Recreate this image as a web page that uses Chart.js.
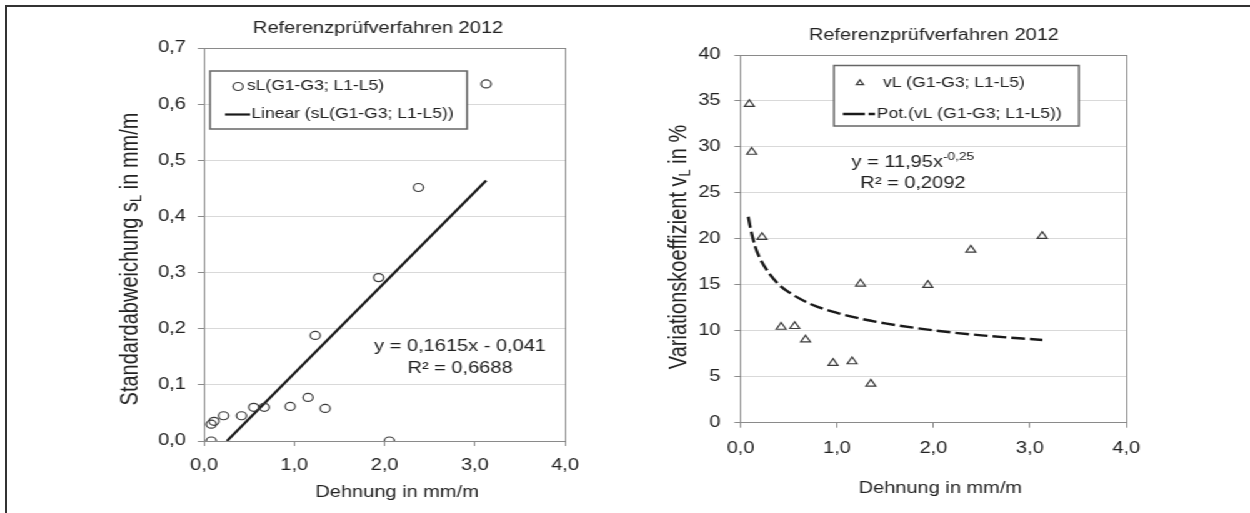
<!DOCTYPE html>
<html>
<head>
<meta charset="utf-8">
<title>Referenzprüfverfahren 2012</title>
<script src="https://cdn.jsdelivr.net/npm/chart.js@4.4.1/dist/chart.umd.min.js"></script>
<style>
  html, body { margin: 0; padding: 0; background: #fff; }
  body { width: 1250px; height: 513px; overflow: hidden; position: relative; }
  #rahmen { position: absolute; left: 5px; top: 5px; width: 1260px; height: 520px;
            border-top: 2px solid #333; border-left: 2px solid #333; }
  /* die Vorlage ist horizontal gestreckt, daher 1000px breit zeichnen und auf 1250 ziehen */
  #flaeche { position: absolute; left: 0; top: 0; width: 1000px; height: 513px;
             transform: scaleX(1.25); transform-origin: 0 0; }
  #flaeche canvas { position: absolute; top: 0; }
</style>
</head>
<body>
<div id="rahmen"></div>
<div id="flaeche">
  <canvas id="diagrammS" width="500" height="513" style="left:0"></canvas>
  <canvas id="diagrammV" width="500" height="513" style="left:500px"></canvas>
</div>
<script>
// Links: Standardabweichung sL über Dehnung
const dehnungS = [0.08, 0.11, 0.216, 0.08, 0.415, 0.55, 0.667, 0.954, 1.152, 1.232, 1.342, 1.934, 2.053, 2.375, 3.126];
const standardabw = [0.030, 0.035, 0.045, 0.0, 0.045, 0.060, 0.060, 0.0615, 0.0776, 0.188, 0.058, 0.291, 0.0, 0.4515, 0.636];
// lineare Trendlinie, Endpunkte aus dem Bild
const linearX = [0.254, 3.126];
const linearY = [0.0, 0.464];

// Rechts: Variationskoeffizient vL über Dehnung
const dehnungV = [0.091, 0.116, 0.223, 0.421, 0.562, 0.674, 0.959, 1.157, 1.244, 1.351, 1.942, 2.388, 3.128];
const variation = [34.65, 29.45, 20.18, 10.41, 10.49, 9.03, 6.48, 6.66, 15.11, 4.22, 14.97, 18.8, 20.3];
// Potenz-Trendlinie, Punkte
const potenzX = [0.08, 0.1, 0.15, 0.2, 0.3, 0.4, 0.5, 0.75, 1.0, 1.25, 1.5, 2.0, 2.5, 3.13];
const potenzY = [22.4, 21.3, 19.2, 17.9, 16.2, 15.0, 14.2, 12.8, 11.95, 11.3, 10.8, 10.05, 9.5, 9.0];

// Achsenbeschriftungen
const xTickLabels = ['0,0', '1,0', '2,0', '3,0', '4,0'];
const sTickLabels = ['0,0', '0,1', '0,2', '0,3', '0,4', '0,5', '0,6', '0,7'];
const vTickLabels = ['0', '5', '10', '15', '20', '25', '30', '35', '40'];

const FONT = "'Liberation Sans', Arial, sans-serif";
const TEXT = '#222';
const RAHMEN = '#8a8a8a';
const GITTER = '#d9d9d9';

Chart.defaults.font.family = FONT;
Chart.defaults.color = TEXT;

const punkte = (xs, ys) => xs.map((x, i) => ({ x: x, y: ys[i] }));
const gleich = (a, b) => Math.abs(a - b) < 1e-9;

function achsen(o) {
  return {
    x: {
      type: 'linear', min: 0, max: 4,
      ticks: { stepSize: 1, autoSkip: false, maxRotation: 0, padding: o.xPad, color: TEXT,
               font: { size: 16 }, callback: (v, i) => xTickLabels[i] },
      grid: {
        color: c => (c.tick && (gleich(c.tick.value, 0) || gleich(c.tick.value, 4))) ? RAHMEN : 'rgba(0,0,0,0)',
        tickColor: RAHMEN, tickLength: 5, lineWidth: 1
      },
      border: { display: true, color: RAHMEN, width: 1 },
      afterFit: s => { s.height = o.xHoehe; }
    },
    y: {
      type: 'linear', min: 0, max: o.yMax,
      ticks: { stepSize: o.yStep, autoSkip: false, padding: o.yPad, color: TEXT,
               font: { size: 16 }, callback: (v, i) => o.yLabels[i] },
      grid: {
        color: c => (c.tick && (gleich(c.tick.value, 0) || gleich(c.tick.value, o.yMax))) ? RAHMEN : GITTER,
        tickColor: RAHMEN, tickLength: 5, lineWidth: 1
      },
      border: { display: true, color: RAHMEN, width: 1 },
      afterFit: s => { s.width = o.yBreite; }
    }
  };
}

// Texte (Titel, Achsentitel mit Index, Gleichungen) und Legende mit Rahmen
const beschriftung = {
  id: 'beschriftung',
  afterDraw(chart, args, opts) {
    const ctx = chart.ctx;
    ctx.save();
    ctx.textBaseline = 'middle';
    ctx.textAlign = 'left';
    ctx.fillStyle = TEXT;
    (opts.texte || []).forEach(t => {
      ctx.save();
      ctx.translate(t.x, t.y);
      if (t.drehen) ctx.rotate(-Math.PI / 2);
      let breite = 0;
      t.teile.forEach(p => {
        ctx.font = p.size + 'px ' + FONT;
        p.w = ctx.measureText(p.text).width;
        breite += p.w;
      });
      let px = -breite / 2;
      t.teile.forEach(p => {
        ctx.font = p.size + 'px ' + FONT;
        ctx.fillText(p.text, px, p.dy || 0);
        px += p.w;
      });
      ctx.restore();
    });

    const lg = opts.legende;
    if (lg) {
      const [x1, y1, x2, y2] = lg.box;
      ctx.fillStyle = '#fff';
      ctx.fillRect(x1, y1, x2 - x1, y2 - y1);
      ctx.lineWidth = 1.5;
      ctx.strokeStyle = '#666';
      ctx.strokeRect(x1, y1, x2 - x1, y2 - y1);
      chart.data.datasets.forEach((ds, i) => {
        const z = lg.zeilen[i];
        ctx.save();
        ctx.strokeStyle = ds.borderColor;
        if (ds.showLine) {
          ctx.lineWidth = ds.borderWidth;
          ctx.setLineDash(z.strich || []);
          ctx.beginPath();
          ctx.moveTo(z.von, z.y);
          ctx.lineTo(z.bis, z.y);
          ctx.stroke();
        } else {
          ctx.lineWidth = 1.2;
          ctx.beginPath();
          const r = z.r;
          if (ds.pointStyle === 'triangle') {
            ctx.moveTo(z.mx, z.y - r);
            ctx.lineTo(z.mx + 0.866 * r, z.y + 0.5 * r);
            ctx.lineTo(z.mx - 0.866 * r, z.y + 0.5 * r);
            ctx.closePath();
          } else {
            ctx.arc(z.mx, z.y, r, 0, Math.PI * 2);
          }
          ctx.stroke();
        }
        ctx.restore();
        ctx.fillStyle = TEXT;
        ctx.font = lg.size + 'px ' + FONT;
        ctx.fillText(ds.label, z.tx, z.y);
      });
    }
    ctx.restore();
  }
};

// Diagramm links
new Chart(document.getElementById('diagrammS'), {
  type: 'scatter',
  data: {
    datasets: [
      {
        label: 'sL(G1-G3; L1-L5)',
        data: punkte(dehnungS, standardabw),
        pointStyle: 'circle', pointRadius: 4, pointBorderWidth: 1.2,
        borderColor: '#3a3a3a', backgroundColor: 'rgba(255,255,255,0)'
      },
      {
        label: 'Linear (sL(G1-G3; L1-L5))',
        data: punkte(linearX, linearY),
        showLine: true, pointRadius: 0, borderWidth: 2.2, borderColor: '#1a1a1a'
      }
    ]
  },
  options: {
    responsive: false,
    animation: false,
    devicePixelRatio: 1,
    layout: { padding: { left: 0, top: 48, right: 48, bottom: 0 } },
    scales: achsen({ yMax: 0.7, yStep: 0.1, yLabels: sTickLabels, yBreite: 163.2, yPad: 9.5, xHoehe: 72, xPad: 10.4 }),
    plugins: {
      legend: { display: false },
      title: { display: false },
      tooltip: { enabled: false },
      beschriftung: {
        texte: [
          { x: 302.4, y: 29, teile: [{ text: 'Referenzprüfverfahren 2012', size: 16 }] },
          { x: 104, y: 259, drehen: true, teile: [
            { text: 'Standardabweichung s', size: 20 },
            { text: 'L', size: 13, dy: 5 },
            { text: ' in mm/m', size: 20 }] },
          { x: 317.6, y: 493, teile: [{ text: 'Dehnung in mm/m', size: 16 }] },
          { x: 368, y: 347, teile: [{ text: 'y = 0,1615x - 0,041', size: 16 }] },
          { x: 368, y: 369, teile: [{ text: 'R² = 0,6688', size: 16 }] }
        ],
        legende: {
          box: [168, 71, 373.6, 129], size: 14,
          zeilen: [
            { y: 86.5, mx: 190.4, r: 4, tx: 197.5 },
            { y: 114.5, von: 180, bis: 200, tx: 201 }
          ]
        }
      }
    }
  },
  plugins: [beschriftung]
});

// Diagramm rechts
new Chart(document.getElementById('diagrammV'), {
  type: 'scatter',
  data: {
    datasets: [
      {
        label: 'vL (G1-G3; L1-L5)',
        data: punkte(dehnungV, variation),
        pointStyle: 'triangle', pointRadius: 4.5, pointBorderWidth: 1.2,
        borderColor: '#3a3a3a', backgroundColor: 'rgba(255,255,255,0)'
      },
      {
        label: 'Pot.(vL (G1-G3; L1-L5))',
        data: punkte(potenzX, potenzY),
        showLine: true, pointRadius: 0, borderWidth: 2.4, borderColor: '#1a1a1a',
        borderDash: [11, 4], cubicInterpolationMode: 'monotone'
      }
    ]
  },
  options: {
    responsive: false,
    animation: false,
    devicePixelRatio: 1,
    layout: { padding: { left: 0, top: 55, right: 98.9, bottom: 0 } },
    scales: achsen({ yMax: 40, yStep: 5, yLabels: vTickLabels, yBreite: 92.5, yPad: 11, xHoehe: 90.3, xPad: 11.7 }),
    plugins: {
      legend: { display: false },
      title: { display: false },
      tooltip: { enabled: false },
      beschriftung: {
        texte: [
          { x: 247.2, y: 36, teile: [{ text: 'Referenzprüfverfahren 2012', size: 16 }] },
          { x: 43, y: 247, drehen: true, teile: [
            { text: 'Variationskoeffizient v', size: 20 },
            { text: 'L', size: 13, dy: 5 },
            { text: ' in %', size: 20 }] },
          { x: 252.3, y: 489, teile: [{ text: 'Dehnung in mm/m', size: 16 }] },
          { x: 230.4, y: 163, teile: [
            { text: 'y = 11,95x', size: 16 },
            { text: '-0,25', size: 11, dy: -6 }] },
          { x: 230.4, y: 184, teile: [{ text: 'R² = 0,2092', size: 16 }] }
        ],
        legende: {
          box: [167.2, 65.5, 363.2, 126], size: 14,
          zeilen: [
            { y: 83, mx: 188, r: 3.2, tx: 206.4 },
            { y: 114, von: 174.4, bis: 200, tx: 201.6, strich: [17.5, 3] }
          ]
        }
      }
    }
  },
  plugins: [beschriftung]
});
</script>
</body>
</html>
